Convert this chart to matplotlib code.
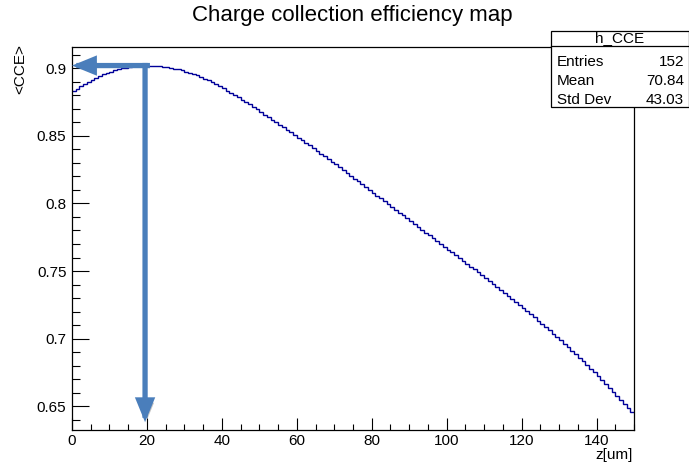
import numpy as np
import matplotlib
matplotlib.use("Agg")
import matplotlib.pyplot as plt
from matplotlib.ticker import MultipleLocator, FuncFormatter
from matplotlib.patches import Rectangle
from matplotlib.lines import Line2D
import matplotlib.patheffects as pe

# ---------------- data ----------------
bin_edges = list(range(0, 151))          # z [um], 150 bins of 1 um
cce = [
    0.8830, 0.8849, 0.8867, 0.8884, 0.8900, 0.8915, 0.8929, 0.8942, 0.8954, 0.8965,
    0.8975, 0.8984, 0.8992, 0.8999, 0.9005, 0.9010, 0.9014, 0.9017, 0.9019, 0.9020,
    0.9020, 0.9019, 0.9018, 0.9015, 0.9012, 0.9008, 0.9003, 0.8997, 0.8991, 0.8984,
    0.8976, 0.8967, 0.8957, 0.8947, 0.8936, 0.8924, 0.8911, 0.8897, 0.8883, 0.8868,
    0.8852, 0.8835, 0.8818, 0.8801, 0.8784, 0.8767, 0.8750, 0.8732, 0.8714, 0.8696,
    0.8677, 0.8658, 0.8639, 0.8620, 0.8601, 0.8582, 0.8563, 0.8544, 0.8525, 0.8506,
    0.8487, 0.8468, 0.8449, 0.8429, 0.8409, 0.8389, 0.8369, 0.8349, 0.8329, 0.8309,
    0.8289, 0.8268, 0.8247, 0.8226, 0.8205, 0.8184, 0.8163, 0.8142, 0.8121, 0.8100,
    0.8079, 0.8058, 0.8037, 0.8016, 0.7995, 0.7974, 0.7953, 0.7932, 0.7911, 0.7890,
    0.7869, 0.7848, 0.7827, 0.7806, 0.7785, 0.7764, 0.7743, 0.7722, 0.7701, 0.7680,
    0.7659, 0.7638, 0.7617, 0.7596, 0.7575, 0.7554, 0.7533, 0.7512, 0.7490, 0.7468,
    0.7446, 0.7424, 0.7402, 0.7380, 0.7358, 0.7336, 0.7314, 0.7292, 0.7270, 0.7248,
    0.7226, 0.7203, 0.7180, 0.7157, 0.7134, 0.7110, 0.7086, 0.7062, 0.7038, 0.7014,
    0.6990, 0.6964, 0.6938, 0.6912, 0.6886, 0.6859, 0.6832, 0.6805, 0.6778, 0.6750,
    0.6722, 0.6694, 0.6665, 0.6636, 0.6607, 0.6578, 0.6548, 0.6518, 0.6488, 0.6458,
]
x_ticks = [0, 20, 40, 60, 80, 100, 120, 140]
y_ticks = [0.65, 0.70, 0.75, 0.80, 0.85, 0.90]
stats_name = "h_CCE"
stats_labels = ["Entries", "Mean", "Std Dev"]
stats_values = ["152", "70.84", "43.03"]
title = "Charge collection efficiency map"
x_title = "z[um]"
y_title = "<CCE>"
arrow_tip_y = 0.6382

# ---------------- figure ----------------
W, H = 689, 468
plt.rcParams['font.family'] = ['Liberation Sans', 'DejaVu Sans']
fig = plt.figure(figsize=(W / 100, H / 100), dpi=100)

def fx(px):
    return px / W

def fy(py):
    return 1 - py / H

ax_l, ax_r, ax_t, ax_b = 72.0, 634.0, 46.5, 429.5
ax = fig.add_axes([fx(ax_l), fy(ax_b), fx(ax_r - ax_l), (ax_b - ax_t) / H])

line_col = '#000099'
ax.stairs(cce, bin_edges, color=line_col, lw=1.0, baseline=None)

ax.set_xlim(0, 150)
ax.set_ylim(0.6328, 0.9161)

ax.xaxis.set_major_locator(plt.FixedLocator(x_ticks))
ax.xaxis.set_minor_locator(MultipleLocator(5))
ax.yaxis.set_major_locator(plt.FixedLocator(y_ticks))
ax.yaxis.set_minor_locator(MultipleLocator(0.01))
ax.xaxis.set_major_formatter(FuncFormatter(lambda v, p: f"{v:g}"))
ax.yaxis.set_major_formatter(FuncFormatter(lambda v, p: f"{v:g}"))

ax.tick_params(axis='both', which='both', direction='in', width=0.8,
               top=False, right=False, labelsize=11, color='black')
ax.tick_params(axis='x', which='major', length=8.4, pad=3.5)
ax.tick_params(axis='x', which='minor', length=4.0)
ax.tick_params(axis='y', which='major', length=12, pad=4)
ax.tick_params(axis='y', which='minor', length=6)
for s in ax.spines.values():
    s.set_linewidth(0.9)

# arrows from the peak
ipk = int(np.argmax(cce))
zpk = bin_edges[ipk] + 0.5
vpk = cce[ipk]
arrow_col = '#4A7EBB'
shadow = [pe.withSimplePatchShadow(offset=(2, -2), shadow_rgbFace='#808080', alpha=0.45)]
ap = dict(arrowstyle='-|>,head_length=1.1,head_width=0.45', mutation_scale=10,
          lw=3.8, color=arrow_col, shrinkA=0, shrinkB=0, path_effects=shadow,
          capstyle='projecting', joinstyle='miter')
ax.annotate('', xy=(zpk, arrow_tip_y), xytext=(zpk, vpk), arrowprops=ap,
            annotation_clip=False, zorder=5)
ax.annotate('', xy=(0.0, vpk), xytext=(zpk + 0.6, vpk), arrowprops=ap,
            annotation_clip=False, zorder=5)

# titles
fig.text(fx(352), fy(16), title, ha='center', va='center', fontsize=16)
fig.text(fx(633), fy(455), x_title, ha='right', va='center', fontsize=11)
fig.text(fx(20), fy(44), y_title, ha='center', va='top', rotation=90, fontsize=11)

# stats box
bx_l, bx_t, bx_r, bx_b = 551, 31, 688.5, 107.3
fig.patches.append(Rectangle((fx(bx_l), fy(bx_b)), fx(bx_r - bx_l), (bx_b - bx_t) / H,
                             transform=fig.transFigure, facecolor='white',
                             edgecolor='black', lw=0.9, zorder=10))
fig.lines.append(Line2D([fx(bx_l), fx(bx_r)], [fy(45.7), fy(45.7)],
                        transform=fig.transFigure, color='black', lw=0.9, zorder=11))
fig.text(fx((bx_l + bx_r) / 2), fy(38.3), stats_name, ha='center', va='center',
         fontsize=11, zorder=12)
row_y = [61.7, 81.2, 100.0]
for lab, val, ry in zip(stats_labels, stats_values, row_y):
    fig.text(fx(557), fy(ry), lab, ha='left', va='center', fontsize=11, zorder=12)
    fig.text(fx(684), fy(ry), val, ha='right', va='center', fontsize=11, zorder=12)

fig.savefig("out.png", dpi=100, facecolor='white')
